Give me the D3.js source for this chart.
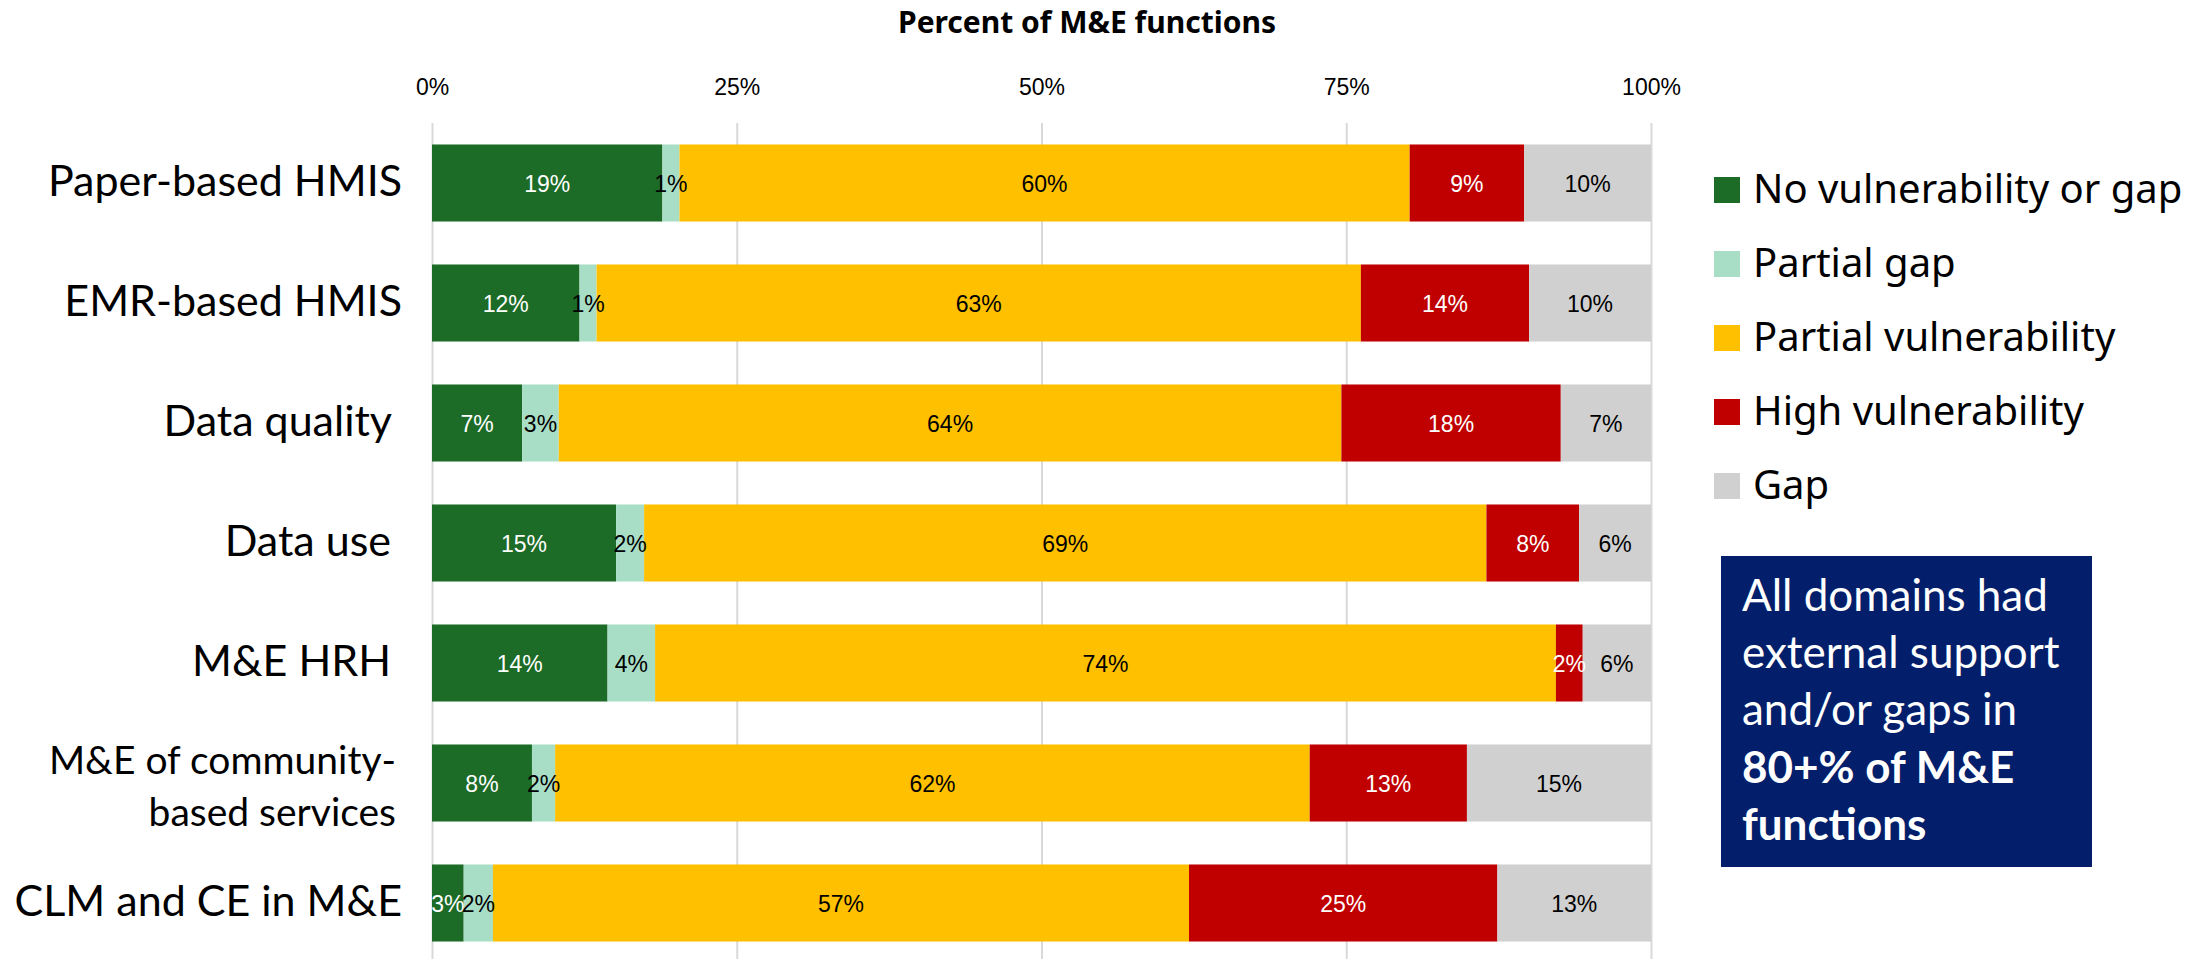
<!DOCTYPE html>
<html>
<head>
<meta charset="utf-8">
<script src="https://cdn.jsdelivr.net/npm/d3@7"></script>
<style>
  body { margin: 0; background: #fff; }
  svg { display: block; }
  .cat { white-space: pre; }
</style>
</head>
<body>
<div id="chart"></div>
<script>
// data (percent of M&E functions)
const categories = ["Paper-based HMIS", "EMR-based HMIS", "Data quality ", "Data use ",
    "M&E HRH ", "M&E of community-\nbased services", "CLM and CE in M&E"];
const seriesNames = ["No vulnerability or gap", "Partial gap", "Partial vulnerability",
    "High vulnerability", "Gap"];
const noVulnerability = [18.9, 12.1, 7.4, 15.1, 14.4, 8.2, 2.6];
const partialGap = [1.4, 1.4, 3.0, 2.3, 3.9, 1.9, 2.4];
const partialVulnerability = [59.9, 62.7, 64.2, 69.1, 73.9, 61.9, 57.1];
const highVulnerability = [9.4, 13.8, 18.0, 7.6, 2.2, 12.9, 25.3];
const gap = [10.4, 10.0, 7.4, 5.9, 5.6, 15.1, 12.6];
const xTicks = [0, 25, 50, 75, 100];
const boxLines = ["All domains had", "external support", "and/or gaps in", "80+% of M&E", "functions"];

const colors = ["#1c6b27", "#a9dec6", "#ffc000", "#c00000", "#d0d0d0"];
const labelColors = ["#fff", "#000", "#000", "#fff", "#000"];

const W = 2194, H = 959;
const plotLeft = 432, plotRight = 1651, plotTop = 123, plotBottom = 963;

const svg = d3.select("#chart").append("svg")
    .attr("width", W)
    .attr("height", H);

svg.append("rect").attr("width", W).attr("height", H).attr("fill", "#fff");

const rows = categories.map((c, i) => ({
    category: c,
    s0: noVulnerability[i],
    s1: partialGap[i],
    s2: partialVulnerability[i],
    s3: highVulnerability[i],
    s4: gap[i]
}));
const keys = ["s0", "s1", "s2", "s3", "s4"];
const stacked = d3.stack().keys(keys)(rows);

var x = d3.scaleLinear().domain([0, 100]).range([plotLeft, plotRight]);
var y = d3.scaleBand()
    .domain(categories)
    .range([plotTop, plotBottom])
    .paddingInner(0.358)
    .paddingOuter(0.179);

// top axis with grid lines
const axis = svg.append("g")
    .attr("transform", "translate(0," + plotTop + ")")
    .call(d3.axisTop(x).tickValues(xTicks).tickFormat(d => d + "%")
        .tickSizeInner(-(H - plotTop)).tickSizeOuter(0).tickPadding(28));
axis.select(".domain").remove();
axis.selectAll(".tick line").attr("stroke", "#d9d9d9").attr("stroke-width", 2);
axis.selectAll(".tick text")
    .attr("font-family", "'Liberation Sans', Arial, sans-serif")
    .attr("font-size", 23)
    .attr("fill", "#000");

// title
svg.append("text")
    .attr("x", 1087)
    .attr("y", 33)
    .attr("text-anchor", "middle")
    .attr("font-family", "'Noto Sans', sans-serif")
    .attr("font-weight", "bold")
    .attr("font-size", 30)
    .text("Percent of M&E functions");

// bars
const layer = svg.selectAll(".layer")
    .data(stacked)
    .enter().append("g")
    .attr("class", "layer")
    .attr("fill", (d, i) => colors[i]);

layer.selectAll("rect")
    .data(d => d)
    .enter().append("rect")
    .attr("x", d => x(d[0]))
    .attr("y", d => y(d.data.category))
    .attr("width", d => x(d[1]) - x(d[0]))
    .attr("height", y.bandwidth());

// data labels
stacked.forEach((s, i) => {
    svg.append("g").selectAll("text")
        .data(s)
        .enter().append("text")
        .attr("x", d => x((d[0] + d[1]) / 2))
        .attr("y", d => y(d.data.category) + y.bandwidth() / 2 + 9)
        .attr("text-anchor", "middle")
        .attr("font-family", "'Liberation Sans', Arial, sans-serif")
        .attr("font-size", 23)
        .attr("fill", labelColors[i])
        .text(d => Math.round(d[1] - d[0]) + "%");
});

// category labels
const catLabels = svg.append("g").selectAll("text")
    .data(categories)
    .enter().append("text")
    .attr("class", "cat")
    .attr("text-anchor", "end")
    .attr("font-family", "Lato, sans-serif")
    .attr("font-size", d => d.includes("\n") ? 39 : 43)
    .attr("fill", "#000");

catLabels.each(function (c) {
    const lines = c.split("\n");
    const cy = y(c) + y.bandwidth() / 2;
    const t = d3.select(this);
    if (lines.length === 1) {
        t.append("tspan").attr("x", 402).attr("y", cy + 13).text(lines[0]);
    } else {
        lines.forEach((l, k) => {
            t.append("tspan").attr("x", 396).attr("y", cy - 9.5 + k * 52).text(l);
        });
    }
});

// legend
const legend = svg.append("g").selectAll("g")
    .data(seriesNames)
    .enter().append("g")
    .attr("transform", (d, i) => "translate(1714," + (190 + i * 74) + ")");

legend.append("rect")
    .attr("x", 0)
    .attr("y", -13)
    .attr("width", 26)
    .attr("height", 26)
    .attr("fill", (d, i) => colors[i]);

legend.append("text")
    .attr("x", 39)
    .attr("y", 13)
    .attr("font-family", "'Noto Sans', sans-serif")
    .attr("font-size", 40)
    .attr("fill", "#000")
    .text(d => d);

// call-out box
svg.append("rect")
    .attr("x", 1721)
    .attr("y", 556)
    .attr("width", 371)
    .attr("height", 311)
    .attr("fill", "#031f6b");

svg.append("g").selectAll("text")
    .data(boxLines)
    .enter().append("text")
    .attr("x", 1742)
    .attr("y", (d, i) => 611 + i * 57.2)
    .attr("font-family", "Lato, sans-serif")
    .attr("font-size", 44)
    .attr("font-weight", (d, i) => i >= 3 ? "bold" : "normal")
    .attr("fill", "#fff")
    .text(d => d);
</script>
</body>
</html>
